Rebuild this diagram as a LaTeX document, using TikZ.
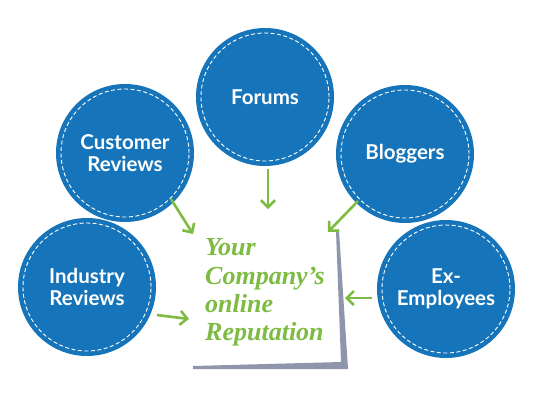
\documentclass[tikz,border=0pt]{standalone}
\usepackage{fontspec}
\setsansfont{Lato}
\newfontfamily\notefont{Liberation Serif}
\usetikzlibrary{arrows.meta}
\definecolor{cblue}{RGB}{22,117,186}
\definecolor{cgreen}{RGB}{125,187,66}
\definecolor{cgrey}{RGB}{143,149,171}
\begin{document}
\begin{tikzpicture}[x=1pt,y=-1pt,
  bubble/.style={circle,fill=cblue,minimum size=138pt,inner sep=0pt,
    text=white,font=\sffamily\bfseries\fontsize{20.5}{22}\selectfont,align=center},
  stitch/.style={draw=white,line width=0.9pt,dash pattern=on 4pt off 2.5pt},
  feed/.style={draw=cgreen,line width=2.6pt,-{Straight Barb[length=7pt,width=14pt,line width=2.6pt]}},
  script/.style={text=cgreen,font=\notefont\bfseries\itshape\fontsize{26}{28}\selectfont,anchor=base west,inner sep=0pt}]
\useasboundingbox (0,0) rectangle (533,400);
\fill[white] (0,0) rectangle (533,400);
% note shadow
\fill[cgrey] (336,231) -- (339,231) -- (348,369) -- (193,369) -- (193,366) -- (341,362) -- cycle;
\coordinate (nCR) at (193,234);
\coordinate (nF) at (268,209);
\coordinate (nB) at (328,232);
\coordinate (nI) at (189,319);
\coordinate (nE) at (345,298);
% bubbles
\node[bubble] (cr) at (125,153) {Customer\\Reviews};
\node[bubble] (fo) at (265,97) {Forums};
\node[bubble] (bl) at (405,154) {Bloggers};
\node[bubble] (ir) at (87,287) {Industry\\Reviews};
\node[bubble] (ex) at (446,289) {Ex-\\Employees};
\foreach \c in {cr,fo,bl,ir,ex} \draw[stitch] (\c.center) circle (64pt);
% arrows
\draw[feed] (cr.-45) ++(-3,-3) -- (nCR);
\draw[feed] (fo.south) ++(3,3) -- (nF);
\draw[feed] (bl.-135) ++(2,-2) -- (nB);
\draw[feed] (157,315) -- (nI);
\draw[feed] (372,298) -- (nE);
% note text
\node[script] (t1) at (205,255) {Your};
\node[script] (t2) at (205,284) {Company’s};
\node[script] (t3) at (205,312) {online};
\node[script] (t4) at (205,340) {Reputation};
\end{tikzpicture}
\end{document}
